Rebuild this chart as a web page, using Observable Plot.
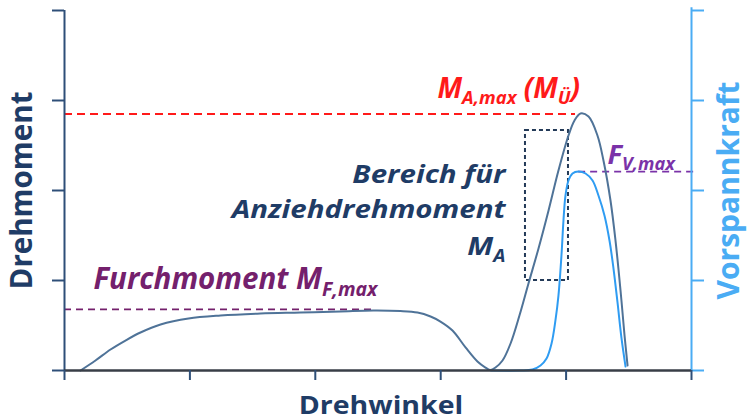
<!DOCTYPE html>
<html>
<head>
<meta charset="utf-8">
<script src="https://cdn.jsdelivr.net/npm/d3@7"></script>
<script src="https://cdn.jsdelivr.net/npm/@observablehq/plot@0.6"></script>
<style>
  html, body { margin: 0; padding: 0; background: #ffffff; }
  #chart { width: 753px; height: 420px; }
</style>
</head>
<body>
<div id="chart"></div>
<script>
// ---------- data ----------
const xTicks = [0, 1, 2, 3, 4, 5];
const yTicks = [0, 1, 2, 3, 4];

// Drehmoment (torque) curve (Drehwinkel, Drehmoment)
const torqueX = [0.128, 0.247, 0.367, 0.486, 0.606, 0.766, 0.989, 1.244, 1.563, 1.882, 2.201, 2.464, 2.679, 2.815, 2.919, 2.998, 3.094, 3.198, 3.293, 3.357, 3.397, 3.437, 3.493, 3.557, 3.628, 3.700, 3.780, 3.860, 3.939, 4.019, 4.067, 4.115, 4.179, 4.250, 4.298, 4.354, 4.394, 4.434, 4.466, 4.490];
const torqueY = [0.0, 0.111, 0.233, 0.333, 0.422, 0.511, 0.578, 0.611, 0.633, 0.644, 0.656, 0.667, 0.661, 0.644, 0.600, 0.544, 0.444, 0.256, 0.100, 0.033, 0.005, 0.033, 0.111, 0.300, 0.611, 0.967, 1.356, 1.778, 2.222, 2.611, 2.778, 2.856, 2.822, 2.611, 2.333, 1.889, 1.444, 0.889, 0.389, 0.056];

// Vorspannkraft (preload) curve
const forceX = [3.400, 3.636, 3.732, 3.796, 3.844, 3.884, 3.915, 3.939, 3.963, 3.979, 3.995, 4.019, 4.051, 4.098, 4.155, 4.211, 4.258, 4.306, 4.346, 4.378, 4.410, 4.442, 4.474];
const forceY = [0.0, 0.0, 0.011, 0.056, 0.133, 0.300, 0.556, 0.833, 1.278, 1.667, 1.944, 2.111, 2.189, 2.211, 2.189, 2.111, 1.944, 1.722, 1.444, 1.133, 0.756, 0.356, 0.044];

// reference levels
const MA_MAX = 2.85;
const MF_MAX = 0.68;
const FV_MAX = 2.21;
const boxX = [3.676, 4.019];
const boxY = [1.0, 2.667];

// texts
const axisLabels = ["Drehmoment", "Drehwinkel", "Vorspannkraft"];
const rangeLines = ["Bereich für", "Anziehdrehmoment", "M{A}"];
const maLabel = "M{A,max} (M{Ü})";
const mfLabel = "Furchmoment M{F,max}";
const fvLabel = "F{V,max}";

// ---------- colours ----------
const navyText = "#1f3c66";
const navyAxis = "#2e4f78";
const bottomAxis = "#383e47";
const lightAxis = "#4aacf4";
const torqueColor = "#4f7398";
const forceColor = "#2f9cf2";
const red = "#ff1a1a";
const furchPurple = "#74206c";
const fvPurple = "#7a32a8";
const boxColor = "#233a58";

const torque = torqueX.map((x, i) => ({x, y: torqueY[i]}));
const force = forceX.map((x, i) => ({x, y: forceY[i]}));
const font = "'Open Sans', 'DejaVu Sans', sans-serif";

const chart = Plot.plot({
  width: 753,
  height: 420,
  marginLeft: 64,
  marginRight: 62,
  marginTop: 10,
  marginBottom: 50,
  style: {fontFamily: font, background: "#ffffff", overflow: "visible"},
  x: {domain: [0, 5]},
  y: {domain: [0, 4]},
  marks: [
    Plot.ruleY([MA_MAX], {x1: 0, x2: 4.075, stroke: red, strokeWidth: 2, strokeDasharray: "8,5"}),
    Plot.ruleY([MF_MAX], {x1: 0, x2: 2.456, stroke: furchPurple, strokeWidth: 1.8, strokeDasharray: "7,5"}),
    Plot.ruleY([FV_MAX], {x1: 4.10, x2: 5.03, stroke: fvPurple, strokeWidth: 1.8, strokeDasharray: "7,5"}),
    Plot.rect([0], {x1: boxX[0], x2: boxX[1], y1: boxY[0], y2: boxY[1], fill: "none", stroke: boxColor, strokeWidth: 2, strokeDasharray: "4,3"}),
    Plot.line(force, {x: "x", y: "y", curve: "catmull-rom", stroke: forceColor, strokeWidth: 2}),
    Plot.line(torque, {x: "x", y: "y", curve: "catmull-rom", stroke: torqueColor, strokeWidth: 2}),
    Plot.ruleX([0], {y1: 0, y2: 4, stroke: navyAxis, strokeWidth: 2}),
    Plot.ruleX([5], {y1: 0, y2: 4.03, stroke: lightAxis, strokeWidth: 2}),
    Plot.ruleY([0], {x1: 0, x2: 5, stroke: bottomAxis, strokeWidth: 2.5}),
    Plot.axisY(yTicks, {anchor: "left", tickSize: 12, tickFormat: () => "", label: null, stroke: navyAxis, strokeWidth: 2}),
    Plot.axisY(yTicks, {anchor: "right", tickSize: 12, tickFormat: () => "", label: null, stroke: lightAxis, strokeWidth: 2}),
    Plot.axisX(xTicks, {anchor: "bottom", tickSize: 10, tickFormat: () => "", label: null, stroke: navyAxis, strokeWidth: 2}),
    Plot.text([axisLabels[0]], {frameAnchor: "left", dx: -42, rotate: -90, textAnchor: "middle", lineAnchor: "middle", fontSize: 29.5, fontWeight: "bold", fill: navyText}),
    Plot.text([axisLabels[1]], {frameAnchor: "bottom", dx: 3, dy: 43, textAnchor: "middle", lineAnchor: "bottom", fontSize: 28.5, fontWeight: "bold", fill: navyText}),
    Plot.text([axisLabels[2]], {frameAnchor: "right", dx: 38, rotate: -90, textAnchor: "middle", lineAnchor: "middle", fontSize: 30, fontWeight: "bold", fill: lightAxis}),
    Plot.text([maLabel], {x: 2.974, y: 3.033, textAnchor: "start", lineAnchor: "bottom", fontSize: 28, fontWeight: "bold", fontStyle: "italic", fill: red}),
    Plot.text([fvLabel], {x: 4.33, y: 2.30, textAnchor: "start", lineAnchor: "bottom", fontSize: 27.5, fontWeight: "bold", fontStyle: "italic", fill: fvPurple}),
    Plot.text([mfLabel], {x: 0.231, y: 0.911, textAnchor: "start", lineAnchor: "bottom", fontSize: 29.5, fontWeight: "bold", fontStyle: "italic", fill: furchPurple}),
    Plot.text(rangeLines, {x: 3.517, y: [2.078, 1.689, 1.278], text: d => d, textAnchor: "end", lineAnchor: "bottom", fontSize: 29.5, fontWeight: "bold", fontStyle: "italic", fill: navyText})
  ]
});

document.getElementById("chart").appendChild(chart);

const squash = new Map([
  ["Bereich für", 0.87], ["Anziehdrehmoment", 0.87], ["M{A}", 0.87], ["Drehwinkel", 0.85]
]);

const SVGNS = "http://www.w3.org/2000/svg";
chart.querySelectorAll("text").forEach(t => {
  const s = t.textContent;
  const k = squash.get(s);
  if (k) {
    const tx = +t.getAttribute("x") || 0, ty = +t.getAttribute("y") || 0;
    t.removeAttribute("x"); t.removeAttribute("y");
    const tr = t.getAttribute("transform") || "";
    t.setAttribute("transform", `${tr} translate(${tx},${ty}) scale(1,${k})`);
  }
  if (!s.includes("{")) return;
  const fs = parseFloat(getComputedStyle(t).fontSize) || 24;
  const subFs = fs * 0.66;
  const shift = fs * 0.24;
  while (t.firstChild) t.removeChild(t.firstChild);
  const parts = s.split(/(\{[^}]*\})/).filter(p => p.length);
  let down = false;
  for (const p of parts) {
    const ts = document.createElementNS(SVGNS, "tspan");
    if (p.startsWith("{")) {
      ts.textContent = p.slice(1, -1);
      ts.setAttribute("font-size", subFs);
      if (!down) { ts.setAttribute("dy", shift); down = true; }
    } else {
      ts.textContent = p;
      if (down) { ts.setAttribute("dy", -shift); down = false; }
    }
    t.appendChild(ts);
  }
});
</script>
</body>
</html>
